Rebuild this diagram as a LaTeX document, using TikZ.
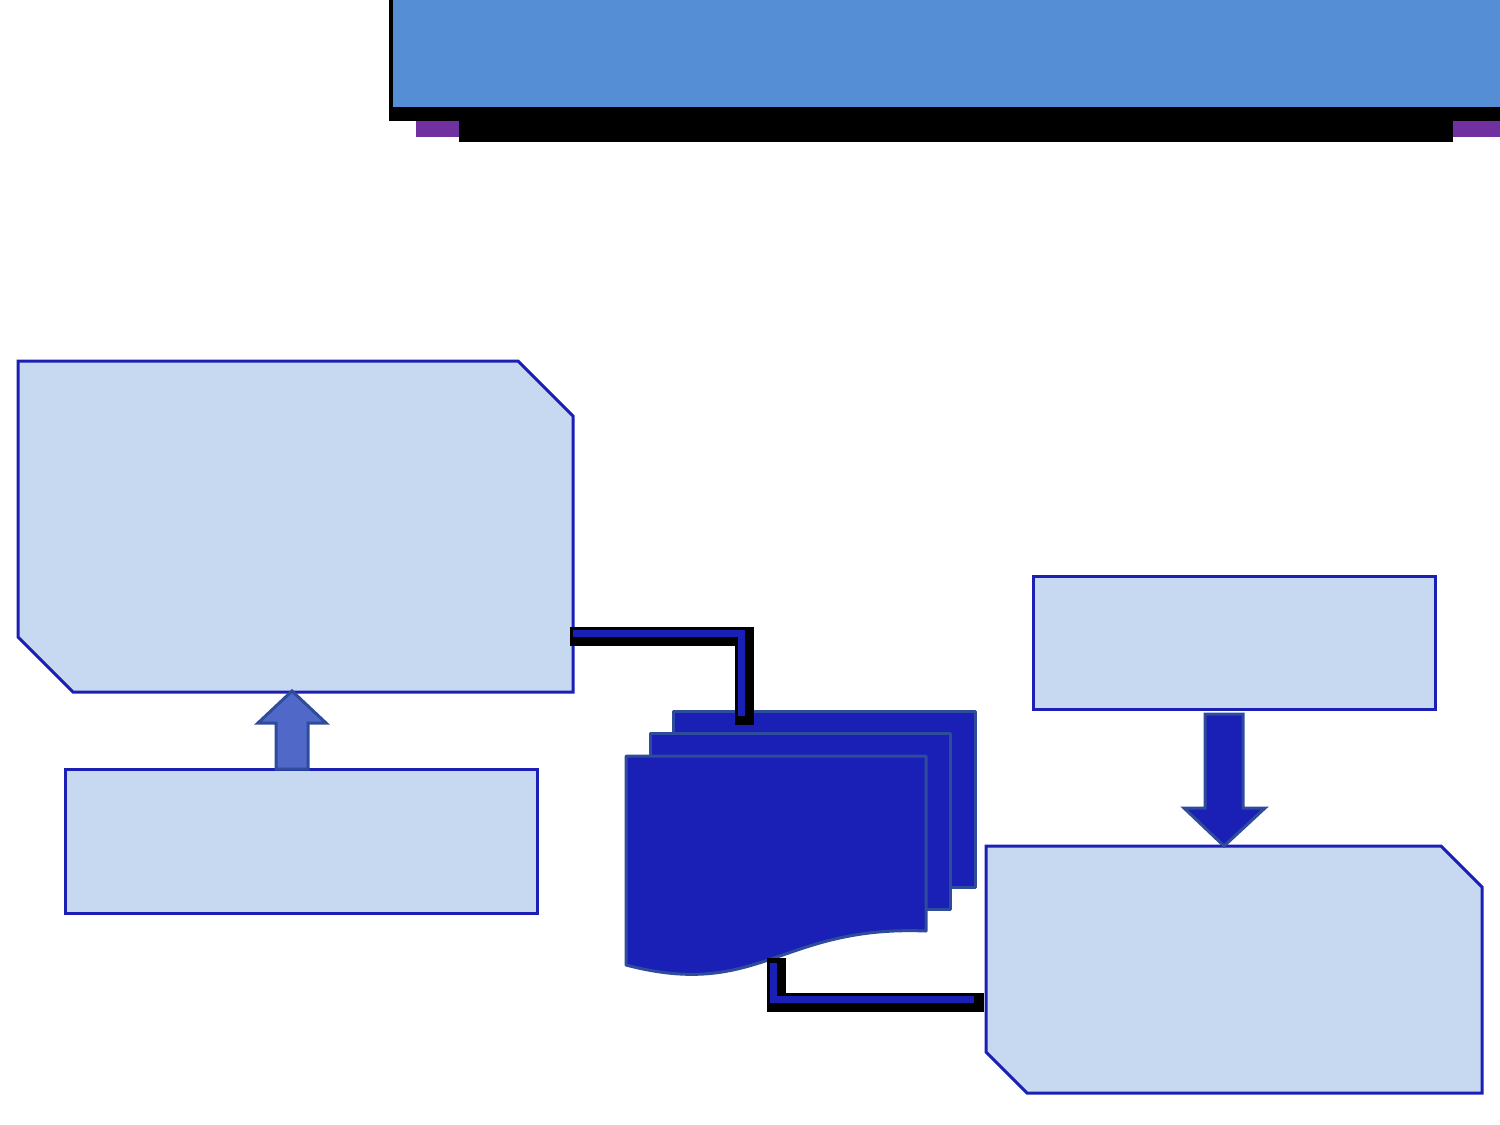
\documentclass[tikz,border=0pt]{standalone}
\usepackage{tikz}
\usetikzlibrary{calc}
\definecolor{bannerblue}{HTML}{558ED5}
\definecolor{bannerpurple}{HTML}{7030A0}
\definecolor{boxfill}{HTML}{C6D9F1}
\definecolor{boxline}{HTML}{1C1FB4}
\definecolor{docfill}{HTML}{1A1FB5}
\definecolor{docline}{HTML}{2F4B9B}
\definecolor{arrowfill}{HTML}{5068C8}

\tikzset{
    box/.style={draw=boxline, fill=boxfill, line width=1.5pt, inner sep=0pt},
    snipspot/.style={inner sep=0pt, outer sep=0pt},
    page/.style={draw=docline, fill=docfill, line width=1.5pt, line join=round},
    blockarrow/.style={draw=docline, line width=1.5pt, line join=miter},
    linkshadow/.style={draw=black, line width=9.5pt, line cap=butt, line join=miter},
    linkcore/.style={draw=docfill, line width=3.5pt, line cap=butt, line join=miter}
}

\begin{document}
\begin{tikzpicture}[x=0.5pt, y=-0.5pt]
    \useasboundingbox (0,0) rectangle (1500,1125);

    \fill[black] (389,0) rectangle (1500,121);
    \fill[bannerblue] (393,0) rectangle (1500,107);
    \fill[black] (459,121) rectangle (1453,142);
    \fill[bannerpurple] (416,121) rectangle (459,137);
    \fill[bannerpurple] (1453,121) rectangle (1500,137);

    \node[snipspot, minimum width=277.5pt, minimum height=165.5pt] (topleft) at (295.5,526.5) {};
    \draw[box] (topleft.north west) -- ($(topleft.north east)+(-55,0)$) -- ($(topleft.north east)+(0,55)$)
        -- (topleft.south east) -- ($(topleft.south west)+(55,0)$) -- ($(topleft.south west)+(0,-55)$) -- cycle;
    \node[box, minimum width=236pt, minimum height=72pt] (lowleft) at (301,841) {};
    \node[box, minimum width=201pt, minimum height=66.5pt] (topright) at (1234,642.5) {};
    \node[snipspot, minimum width=248pt, minimum height=123.5pt] (lowright) at (1234,969.5) {};
    \draw[box] (lowright.north west) -- ($(lowright.north east)+(-41,0)$) -- ($(lowright.north east)+(0,41)$)
        -- (lowright.south east) -- ($(lowright.south west)+(41,0)$) -- ($(lowright.south west)+(0,-41)$) -- cycle;

    \draw[blockarrow, fill=arrowfill] (276,769) -- (276,723) -- (258,723) -- (292,691)
        -- (326,723) -- (308,723) -- (308,769) -- cycle;
    \draw[blockarrow, fill=docfill] (1205,714) -- (1243,714) -- (1243,808) -- (1265,808)
        -- (1224,846) -- (1184,808) -- (1205,808) -- cycle;

    \draw[page] (673,711) rectangle (975,887);
    \draw[page] (650,733) rectangle (950,909);
    \draw[page] (626,756) -- (926,756) -- (926,931)
        .. controls (780,925) and (760,1000) .. (626,965) -- cycle;

    \coordinate (leftout) at (570,636.5);
    \coordinate (docin) at (744,725);
    \coordinate (docout) at (776.5,958);
    \coordinate (rightin) at (984,1002);

    \draw[linkshadow] (leftout) -| (docin);
    \draw[linkcore] ($(leftout)+(3,-3)$) -| ($(docin)+(-2.5,-9)$);
    \draw[linkshadow] (docout) |- (rightin);
    \draw[linkcore] ($(docout)+(-3,5)$) |- ($(rightin)+(-10,-3)$);

\end{tikzpicture}
\end{document}
